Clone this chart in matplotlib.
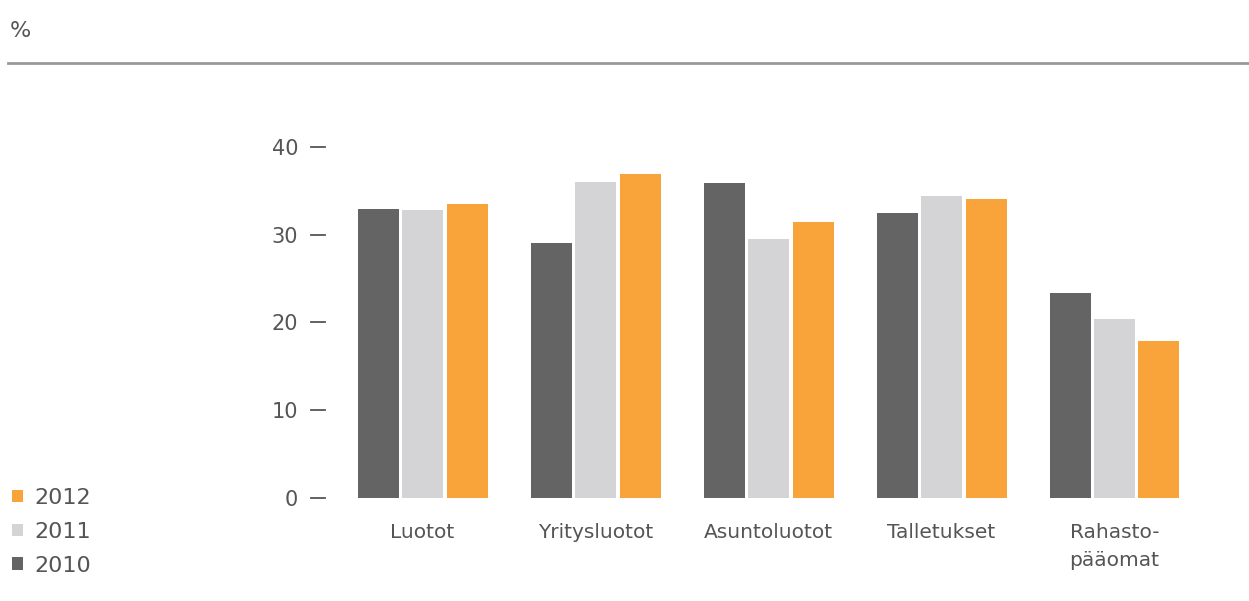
import numpy as np
import matplotlib.pyplot as plt
from matplotlib.lines import Line2D

plt.rcParams['font.family'] = ['DejaVu Sans']

categories = ['Luotot', 'Yritysluotot', 'Asuntoluotot', 'Talletukset', 'Rahasto-\npääomat']
years = ['2010', '2011', '2012']
v2010 = [32.9, 29.0, 35.9, 32.5, 23.3]
v2011 = [32.8, 36.0, 29.5, 34.4, 20.4]
v2012 = [33.45, 36.9, 31.4, 34.1, 17.9]
colors = ['#646464', '#d4d4d6', '#f9a43a']
text_col = '#555555'

fig = plt.figure(figsize=(12.49, 6.01), dpi=100)
W, H = 1249, 601

# axes placed in pixel terms: x=0 group at 422px, 173px per group
ax = fig.add_axes([330 / W, (H - 497.7) / H, 870 / W, (42 * 8.77) / H])

x = np.arange(len(categories))
pitch = 0.257
width = 0.237
bars = []
for i, (vals, c) in enumerate(zip([v2010, v2011, v2012], colors)):
    b = ax.bar(x + (i - 1) * pitch, vals, width, color=c, label=years[i])
    bars.append(b)

ax.set_xlim(-0.535, 4.494)
ax.set_ylim(0, 42)
for s in ax.spines.values():
    s.set_visible(False)

ax.set_yticks([0, 10, 20, 30, 40])
ax.set_yticklabels(['0', '10', '20', '30', '40'])
ax.tick_params(axis='y', length=0, pad=23, labelsize=15, labelcolor=text_col)
# the short dash next to each y value
for v in [0, 10, 20, 30, 40]:
    ax.add_line(Line2D([-0.535 - 0.11, -0.535 - 0.03], [v, v], transform=ax.transData,
                       color=text_col, lw=1.3, clip_on=False))

ax.set_xticks(x)
ax.set_xticklabels(categories)
ax.tick_params(axis='x', length=0, pad=18.5, labelsize=14.5, labelcolor=text_col)
for lbl in ax.get_xticklabels():
    lbl.set_linespacing(1.55)

# header
fig.text(10 / W, 1 - 31 / H, '%', fontsize=16, color=text_col, va='center', ha='left')
fig.add_artist(Line2D([8 / W, 1.0], [1 - 63 / H, 1 - 63 / H], color='#999999', lw=2))

# legend, newest year on top
handles = [bars[2], bars[1], bars[0]]
leg = fig.legend(handles, ['2012', '2011', '2010'], loc='upper left',
                 bbox_to_anchor=(-8 / W, 1 - 468 / H), frameon=False,
                 handlelength=0.5, handleheight=0.5, handletextpad=0.5,
                 labelspacing=0.62, fontsize=16)
for t in leg.get_texts():
    t.set_color(text_col)

fig.savefig('out.png', dpi=100, facecolor='white')
